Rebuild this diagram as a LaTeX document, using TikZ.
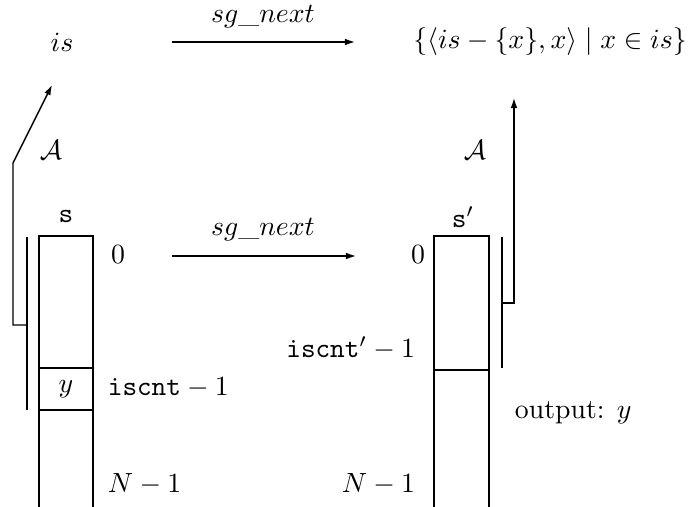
\documentclass[tikz,border=0pt]{standalone}
\usetikzlibrary{arrows.meta}
\begin{document}
\begin{tikzpicture}[x=0.36pt,y=-0.36pt,
  every node/.style={inner sep=0pt,outer sep=0pt},
  ln/.style={line width=0.5pt},
  arr/.style={ln,-{Latex[length=3.6pt,width=2.4pt]}}]
\useasboundingbox (0,0) rectangle (695,507);
% top row
\node (is) at (62,42) {$is$};
\node (set) at (550,42) {$\{\langle is-\{x\},x\rangle\mid x\in is\}$};
\coordinate (t1) at (172,42);
\coordinate (t2) at (355,42);
\draw[arr] (t1) -- (t2);
\node (tl) at (263,17) {$sg\_next$};
% left array
\draw[ln] (39,507) -- (39,236) -- (93,236) -- (93,507);
\draw[ln] (39,368) -- (93,368);
\draw[ln] (39,410) -- (93,410);
\node (s) at (66,216) {\texttt{s}};
\node (y) at (66,389) {$y$};
\node (z1) at (118,255) {$0$};
\node[anchor=west] (ic) at (108,388) {$\mathtt{iscnt}-1$};
\node[anchor=west] (n1) at (108,484) {$N-1$};
% left bracket and A arrow
\draw[ln] (27,237) -- (27,410);
\coordinate (la0) at (27,325);
\coordinate (la1) at (13,325);
\coordinate (la2) at (13,163);
\coordinate (la3) at (52,85);
\draw[arr] (la0) -- (la1) -- (la2) -- (la3);
\node (A1) at (51,150) {$\mathcal{A}$};
% middle arrow
\coordinate (m1) at (172,256);
\coordinate (m2) at (356,256);
\draw[arr] (m1) -- (m2);
\node (ml) at (263,230) {$sg\_next$};
% right array
\draw[ln] (434,507) -- (434,236) -- (489,236) -- (489,507);
\draw[ln] (434,370) -- (489,370);
\node (s2) at (463,217) {$\mathtt{s}'$};
\node (z2) at (418,255) {$0$};
\node[anchor=east] (ic2) at (415,348) {$\mathtt{iscnt}'-1$};
\node[anchor=east] (n2) at (415,484) {$N-1$};
% right bracket and A arrow
\draw[ln] (502,237) -- (502,368);
\coordinate (ra0) at (502,303);
\coordinate (ra1) at (514,303);
\coordinate (ra2) at (514,98);
\draw[arr] (ra0) -- (ra1) -- (ra2);
\node (A2) at (475,150) {$\mathcal{A}$};
\node[anchor=west] (out) at (515,413) {output: $y$};
\end{tikzpicture}
\end{document}
